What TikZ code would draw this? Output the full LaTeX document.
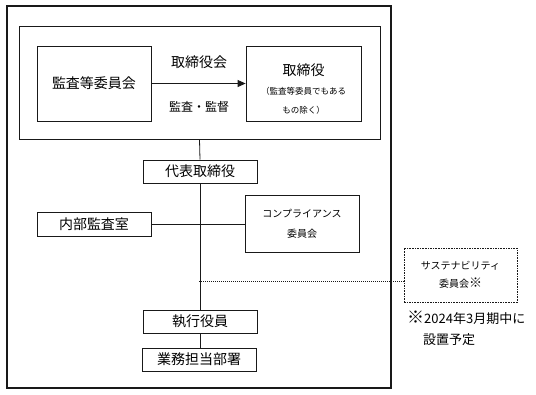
\documentclass[tikz,border=0pt]{standalone}
\usepackage{fontspec}
\setmainfont{Noto Sans CJK JP}
\usepackage{tikz}
\usetikzlibrary{arrows.meta,positioning,calc}
\definecolor{orgline}{rgb}{0.10,0.10,0.10}
\newcommand{\fsz}[2]{\fontsize{#1}{#2}\selectfont}
\newcommand{\kome}[1]{{\fontsize{#1}{#1}\selectfont ※}}
\tikzset{
  unit/.style={draw=orgline, line width=0.8pt, inner sep=0pt, align=center,
    minimum width=114pt, font=\fsz{14}{17}},
  bigunit/.style={unit, minimum height=75pt},
  smallunit/.style={unit, minimum height=23pt},
  planned/.style={unit, dash pattern=on 1.6pt off 1pt, font=\fsz{10}{18}},
  link/.style={draw=orgline, line width=0.8pt},
  plink/.style={link, line width=0.6pt, dash pattern=on 1.2pt off 0.8pt},
  tag/.style={inner sep=0pt, font=\fsz{14}{17}}
}

\begin{document}
\begin{tikzpicture}[x=1pt, y=-1pt]
  \useasboundingbox (0,0) rectangle (536,394);

  % outer frame and board
  \draw[orgline, line width=1.6pt] (7,6) rectangle (391,388);
  \node[draw=orgline, line width=1pt, minimum width=361pt, minimum height=113pt,
        inner sep=0pt] (board) at (199.5,82.5) {};

  \node[bigunit] (kansa) at (94,83.5) {監査等委員会};
  \node[bigunit, minimum width=115pt] (torishimari) at (303.5,83.5) {};
  \node[tag, align=center] (torishimaritext) at (303.5,89.5)
    {取締役\\[2pt]{\fsz{8.5}{18}（監査等委員でもある}\\[2pt]{\fsz{8.5}{18}もの除く）}};

  \draw[link, -{Triangle[length=8pt, width=7pt]}] (kansa) -- (torishimari);
  \node[tag] (boardname) at (199,62) {取締役会};
  \node[tag, font=\fsz{12}{14}] (oversight) at (199,107) {監査・監督};

  % executive line
  \node[smallunit] (daihyo) at (200,171.5) {代表取締役};
  \node[smallunit, minimum height=24pt] (naibu) at (94,224) {内部監査室};
  \node[unit, minimum height=57pt, font=\fsz{10}{20}] (comp) at (302,223.5)
    {コンプライアンス\\委員会};
  \node[smallunit] (shikko) at (200,321.5) {執行役員};
  \node[smallunit] (gyomu) at (199,359.5) {業務担当部署};

  \node[planned, minimum width=113pt, minimum height=54pt] (sust) at (460.5,275)
    {サステナビリティ\\委員会\kome{13}};
  \node[tag, align=left, font=\fsz{13}{21}, anchor=north west] (note) at (407,311)
    {\kome{17}2024年3月期中に\\\hspace*{16pt}設置予定};

  \coordinate (spine) at (199,281);

  \draw[link] (board.south) -- (daihyo.north);
  \draw[link] (daihyo.south) -- (shikko.north);
  \draw[link] (naibu.east) -- (naibu.east -| comp.west);
  \draw[plink] (spine) -- (spine -| sust.west);
  \draw[link] (shikko.south) -- (shikko.south |- gyomu.north);
\end{tikzpicture}
\end{document}
